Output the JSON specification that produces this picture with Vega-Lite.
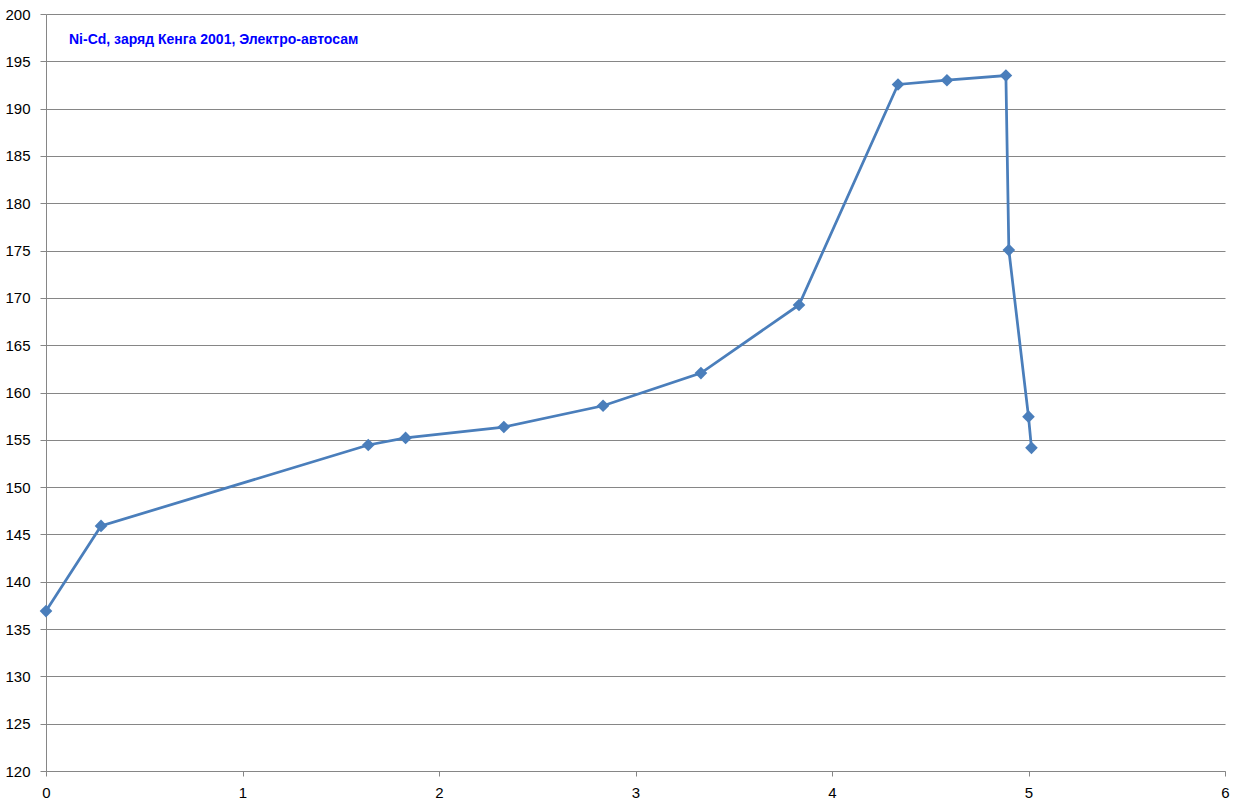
{
  "$schema": "https://vega.github.io/schema/vega-lite/v6.json",
  "autosize": "none",
  "width": 1179,
  "height": 757,
  "padding": {"left": 46, "top": 14, "right": 11, "bottom": 38},
  "background": "white",
  "config": {"view": {"stroke": null}},
  "title": {
    "text": "Ni-Cd, заряд Кенга 2001, Электро-автосам",
    "anchor": "start",
    "frame": "group",
    "orient": "top",
    "offset": -47,
    "dx": 23,
    "font": "Liberation Sans",
    "fontSize": 14,
    "fontWeight": "bold",
    "color": "#0000FF",
    "baseline": "middle"
  },
  "data": {
    "values": [
      {"t": 0.0, "v": 136.9},
      {"t": 0.28, "v": 145.9},
      {"t": 1.64, "v": 154.45},
      {"t": 1.83, "v": 155.2},
      {"t": 2.33, "v": 156.35},
      {"t": 2.835, "v": 158.6},
      {"t": 3.333, "v": 162.05},
      {"t": 3.832, "v": 169.25},
      {"t": 4.336, "v": 192.55},
      {"t": 4.585, "v": 193.0},
      {"t": 4.885, "v": 193.5},
      {"t": 4.9, "v": 175.05},
      {"t": 5.0, "v": 157.45},
      {"t": 5.015, "v": 154.15}
    ]
  },
  "encoding": {
    "x": {
      "field": "t", "type": "quantitative",
      "scale": {"domain": [0, 6], "nice": false, "zero": false},
      "axis": {
        "title": null, "values": [0, 1, 2, 3, 4, 5, 6], "grid": false,
        "domainColor": "#868686", "tickColor": "#868686", "tickSize": 5,
        "labelFont": "Liberation Sans", "labelFontSize": 15, "labelColor": "#000000",
        "labelPadding": 9, "format": "d", "labelFlush": false
      }
    },
    "y": {
      "field": "v", "type": "quantitative",
      "scale": {"domain": [120, 200], "nice": false, "zero": false},
      "axis": {
        "title": null, "values": [120, 125, 130, 135, 140, 145, 150, 155, 160, 165, 170, 175, 180, 185, 190, 195, 200],
        "grid": true, "gridColor": "#868686", "gridWidth": 1,
        "domainColor": "#868686", "tickColor": "#868686", "tickSize": 6,
        "labelFont": "Liberation Sans", "labelFontSize": 15, "labelColor": "#000000",
        "labelPadding": 10, "format": "d", "labelFlush": false
      }
    }
  },
  "layer": [
    {"mark": {"type": "line", "color": "#4A7EBB", "strokeWidth": 2.75}},
    {"mark": {"type": "point", "shape": "diamond", "filled": true, "color": "#4A7EBB", "size": 160, "opacity": 1}}
  ]
}
